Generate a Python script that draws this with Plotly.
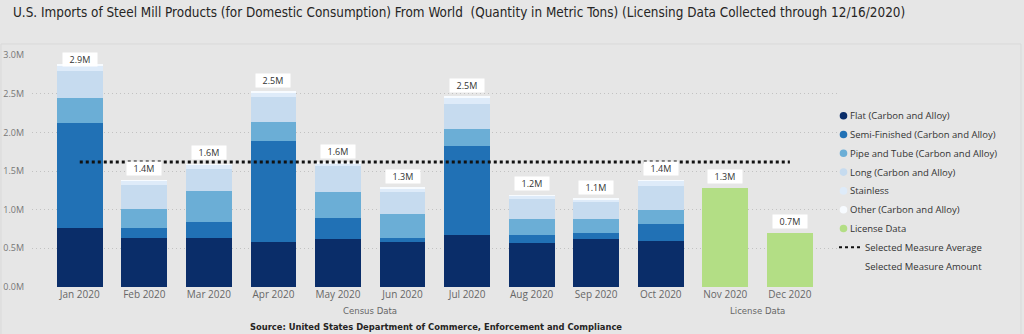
import plotly.graph_objects as go
import numpy as np

months = ["Jan 2020", "Feb 2020", "Mar 2020", "Apr 2020", "May 2020", "Jun 2020",
          "Jul 2020", "Aug 2020", "Sep 2020", "Oct 2020", "Nov 2020", "Dec 2020"]
census_months = months[:10]
license_months = months[10:]

# values in million metric tons
flat = [0.757, 0.636, 0.636, 0.580, 0.615, 0.580, 0.671, 0.567, 0.623, 0.593]
semi = [1.362, 0.129, 0.207, 1.314, 0.272, 0.056, 1.154, 0.104, 0.078, 0.220]
pipe = [0.328, 0.239, 0.398, 0.242, 0.345, 0.307, 0.224, 0.203, 0.173, 0.182]
long_ = [0.351, 0.315, 0.290, 0.328, 0.328, 0.281, 0.317, 0.260, 0.229, 0.315]
stainless = [0.068, 0.053, 0.048, 0.057, 0.038, 0.052, 0.087, 0.043, 0.030, 0.062]
other = [0.010, 0.008, 0.008, 0.008, 0.006, 0.008, 0.008, 0.008, 0.007, 0.008]
license_data = [1.276, 0.692]

series_names = ["Flat (Carbon and Alloy)", "Semi-Finished (Carbon and Alloy)",
                "Pipe and Tube (Carbon and Alloy)", "Long (Carbon and Alloy)",
                "Stainless", "Other (Carbon and Alloy)"]
series_vals = [flat, semi, pipe, long_, stainless, other]
series_colors = ["#0a2d69", "#2171b5", "#6baed6", "#c6dbef", "#deebf9", "#f7fbff"]
license_color = "#b3de85"

COND = "DejaVu Sans Condensed, Lato, sans-serif"
UI = "Open Sans, sans-serif"

W, H = 1024, 334
L, R, T, B = 32, W - 837, 55, H - 287

fig = go.Figure()
for name, vals, col in zip(series_names, series_vals, series_colors):
    fig.add_trace(go.Bar(x=census_months, y=vals, name=name, marker_color=col,
                         marker_line_width=0, showlegend=False))
fig.add_trace(go.Bar(x=license_months, y=license_data, name="License Data",
                     marker_color=license_color, marker_line_width=0, showlegend=False))

totals = list(np.sum(np.array(series_vals), axis=0)) + license_data
avg = float(np.mean(totals))
fig.add_trace(go.Scatter(x=months, y=[avg] * len(months), mode="lines",
                         line=dict(color="#111111", width=3, dash="dot"),
                         showlegend=False, hoverinfo="skip"))

annotations = []
for i, (m, t) in enumerate(zip(months, totals)):
    ly = min(t + 0.15, 2.95)
    annotations.append(dict(x=m, y=ly, xref="x", yref="y", text=f"{t:.1f}M",
                            showarrow=False, bgcolor="#ffffff", borderpad=1,
                            width=32, height=11,
                            font=dict(family=UI, size=9, color="#333333"),
                            yanchor="middle"))

pw = W - L - R
ph = H - T - B
def px(xp):
    return (xp - L) / pw
def py(yp):
    return (H - B - yp) / ph

# group labels
for xc, txt in [(4.5, "Census Data"), (10.5, "License Data")]:
    annotations.append(dict(x=xc, y=py(310), xref="x", yref="paper", text=txt,
                            yanchor="middle", showarrow=False,
                            font=dict(family=COND, size=9.5, color="#666666")))
annotations.append(dict(x=px(436), y=py(326), xref="paper", yref="paper", yanchor="middle",
                        text="<b>Source: United States Department of Commerce, Enforcement and Compliance</b>",
                        showarrow=False, font=dict(family=COND, size=9.3, color="#252423")))
# title
annotations.append(dict(x=px(11), y=py(13), xref="paper", yref="paper", xanchor="left", yanchor="middle",
                        text="U.S. Imports of Steel Mill Products (for Domestic Consumption) From World  (Quantity in Metric Tons) (Licensing Data Collected through 12/16/2020)",
                        showarrow=False, font=dict(family=COND, size=13.4, color="#252423")))

# manual legend
legend_items = series_names + ["License Data"]
legend_colors = series_colors + [license_color]
shapes = []
y0 = 115.7
step = 18.8
for k, (nm, col) in enumerate(zip(legend_items, legend_colors)):
    yc = y0 + k * step
    shapes.append(dict(type="circle", xref="paper", yref="paper", xsizemode="pixel", ysizemode="pixel",
                       xanchor=px(843.5), yanchor=py(yc), x0=-3.8, x1=3.8, y0=-3.8, y1=3.8,
                       fillcolor=col, line=dict(width=0)))
    annotations.append(dict(x=px(848), y=py(yc), xref="paper", yref="paper", xanchor="left",
                            yanchor="middle", text=nm, showarrow=False,
                            font=dict(family=UI, size=9.5, color="#333333")))
yc = y0 + 7 * step
shapes.append(dict(type="line", xref="paper", yref="paper", x0=px(839), x1=px(862), y0=py(yc), y1=py(yc),
                   line=dict(color="#111111", width=2, dash="dot")))
annotations.append(dict(x=px(863), y=py(yc), xref="paper", yref="paper", xanchor="left",
                        yanchor="middle", text="Selected Measure Average", showarrow=False,
                        font=dict(family=UI, size=9.5, color="#333333")))
yc = y0 + 8 * step
annotations.append(dict(x=px(863), y=py(yc), xref="paper", yref="paper", xanchor="left",
                        yanchor="middle", text="Selected Measure Amount", showarrow=False,
                        font=dict(family=UI, size=9.5, color="#333333")))

# visual border
shapes.append(dict(type="rect", xref="paper", yref="paper", x0=px(1), x1=px(1021), y0=py(44), y1=py(340),
                   line=dict(color="#d9d9d9", width=1), fillcolor="rgba(0,0,0,0)", layer="below"))

fig.update_layout(
    width=W, height=H,
    margin=dict(l=L, r=R, t=T, b=B, autoexpand=False),
    paper_bgcolor="#e6e6e6", plot_bgcolor="#e6e6e6",
    barmode="stack", bargap=0.29,
    showlegend=False,
    annotations=annotations, shapes=shapes,
    xaxis=dict(type="category", categoryorder="array", categoryarray=months,
               range=[-0.74, 11.73], showgrid=False, zeroline=False, showline=False,
               automargin=False,
               ticks="", tickfont=dict(family=UI, size=10, color="#666666")),
    yaxis=dict(range=[-0.004, 3.004], tickvals=[0, 0.5, 1.0, 1.5, 2.0, 2.5, 3.0],
               ticktext=["0.0M", "0.5M", "1.0M", "1.5M", "2.0M", "2.5M", "3.0M"],
               showgrid=True, gridcolor="#c2c2c2", griddash="1px,3px", gridwidth=1,
               zeroline=False, showline=False, ticks="", ticklabelstandoff=7,
               automargin=False,
               tickfont=dict(family=UI, size=9, color="#777777")),
)

fig.write_html("out.html")
